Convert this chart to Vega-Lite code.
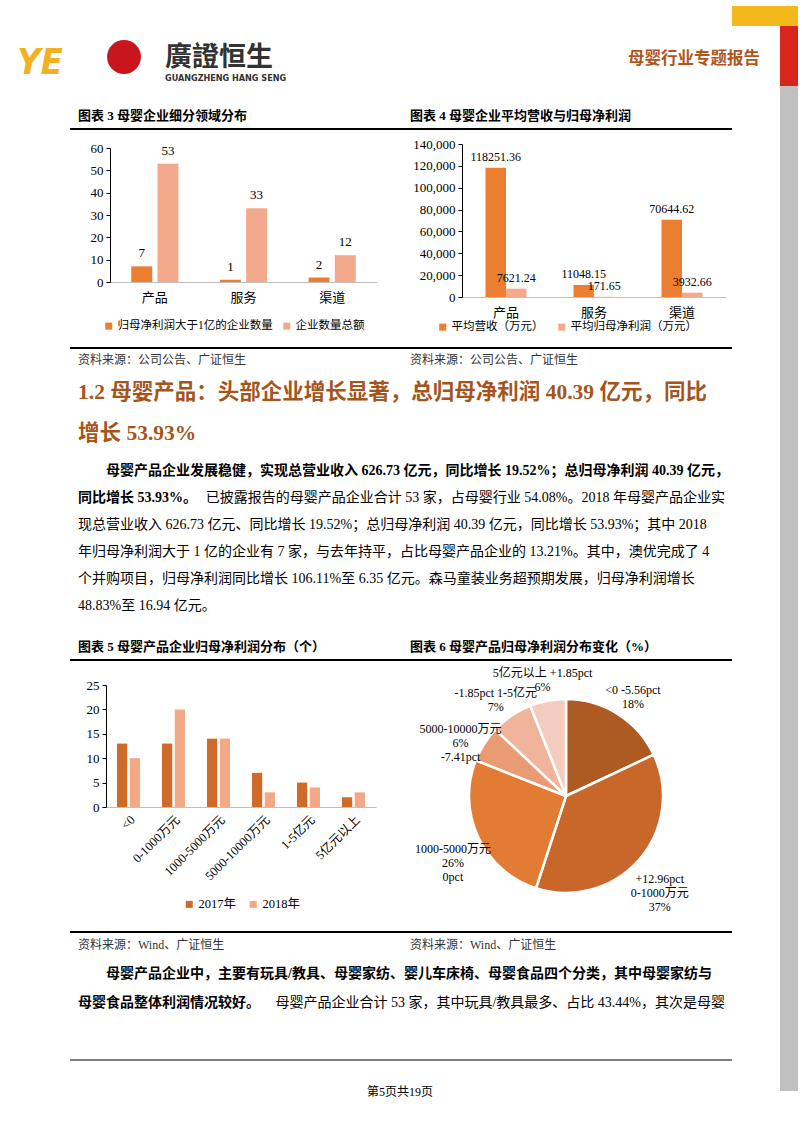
{
"$schema": "https://vega.github.io/schema/vega-lite/v6.json",
"background": "white",
"padding": 0,
"data": {"values": [{}]},
"columns": 5,
"spacing": 0,
"bounds": "flush",
"align": "each",
"resolve": {
  "scale": {"color": "independent", "fill": "independent", "xOffset": "independent", "theta": "independent"},
  "legend": {"color": "independent", "fill": "independent"}
},
"config": {
  "view": {"stroke": null},
  "font": "Liberation Serif, Noto Sans CJK SC",
  "axis": {"labelFont": "Liberation Serif, Noto Sans CJK SC", "titleFont": "Liberation Serif, Noto Sans CJK SC"},
  "legend": {"labelFont": "Liberation Serif, Noto Sans CJK SC"},
  "title": {"font": "Liberation Serif, Noto Sans CJK SC"},
  "text": {"font": "Liberation Serif, Noto Sans CJK SC"}
},
"concat": [
  {"width": 70, "height": 5, "mark": {"type": "point", "opacity": 0}},
  {"width": 330, "height": 5, "mark": {"type": "point", "opacity": 0}},
  {"width": 332, "height": 5, "mark": {"type": "point", "opacity": 0}},
  {"width": 48, "height": 5, "mark": {"type": "point", "opacity": 0}},
  {"width": 18, "height": 5, "mark": {"type": "point", "opacity": 0}},

  {"width": 70, "height": 20, "mark": {"type": "point", "opacity": 0}},
  {"width": 330, "height": 20, "mark": {"type": "point", "opacity": 0}},
  {"width": 332, "height": 20, "mark": {"type": "point", "opacity": 0}},
  {"width": 48, "height": 20, "view": {"fill": "#F3B81A"}, "mark": {"type": "point", "opacity": 0}},
  {"width": 18, "height": 20, "view": {"fill": "#F3B81A"}, "mark": {"type": "point", "opacity": 0}},

  {"width": 70, "height": 60, "mark": {"type": "point", "opacity": 0}},
  {"width": 330, "height": 60,
   "data": {"values": [{"org": "廣證恒生"}]},
   "mark": {"type": "point", "opacity": 0, "filled": true},
   "encoding": {
     "fill": {"field": "org", "type": "nominal", "scale": {"range": ["#C9161D"]},
       "legend": {"orient": "none", "legendX": 37, "legendY": 14, "title": null, "symbolType": "circle", "symbolSize": 1150, "symbolOpacity": 1, "symbolStrokeWidth": 0, "labelExpr": "''"}}
   }},
  {"width": 332, "height": 60, "mark": {"type": "point", "opacity": 0}},
  {"width": 48, "height": 60, "mark": {"type": "point", "opacity": 0}},
  {"width": 18, "height": 60, "view": {"fill": "#D9261C"}, "mark": {"type": "point", "opacity": 0}},

  {"width": 70, "height": 42, "mark": {"type": "point", "opacity": 0},
   "title": {"text": "YE", "anchor": "middle", "frame": "group", "dx": 5, "offset": 4, "fontSize": 36, "fontStyle": "italic", "fontWeight": "bold", "color": "#F2B120", "font": "DejaVu Sans Condensed, DejaVu Sans"}},
  {"width": 330, "height": 42, "mark": {"type": "point", "opacity": 0},
   "title": {"text": "廣證恒生", "subtitle": "GUANGZHENG HANG SENG", "anchor": "start", "frame": "group", "dx": 95, "offset": 2, "fontSize": 27, "fontWeight": "bold", "color": "#333333", "font": "Noto Sans CJK TC", "subtitleFontSize": 9, "subtitleFont": "DejaVu Sans Condensed, DejaVu Sans", "subtitleFontWeight": "bold", "subtitleColor": "#333333", "subtitlePadding": 2}},
  {"width": 332, "height": 42, "mark": {"type": "point", "opacity": 0},
   "title": {"text": "母婴行业专题报告", "anchor": "end", "frame": "group", "dx": 28, "offset": 19, "fontSize": 16.5, "fontWeight": "bold", "color": "#B0561C", "font": "Noto Sans CJK SC"}},
  {"width": 48, "height": 42, "mark": {"type": "point", "opacity": 0}},
  {"width": 18, "height": 42, "view": {"fill": "#C0C0C0"}, "mark": {"type": "point", "opacity": 0}},

  {"width": 70, "height": 2, "mark": {"type": "point", "opacity": 0}},
  {"width": 330, "height": 2, "view": {"fill": "#000000"}, "mark": {"type": "point", "opacity": 0},
   "title": {"text": "图表 3 母婴企业细分领域分布", "anchor": "start", "frame": "group", "dx": 8, "offset": 3, "fontSize": 13, "fontWeight": "bold", "color": "#000000"}},
  {"width": 332, "height": 2, "view": {"fill": "#000000"}, "mark": {"type": "point", "opacity": 0},
   "title": {"text": "图表 4 母婴企业平均营收与归母净利润", "anchor": "start", "frame": "group", "dx": 10, "offset": 3, "fontSize": 13, "fontWeight": "bold", "color": "#000000"}},
  {"width": 48, "height": 2, "mark": {"type": "point", "opacity": 0}},
  {"width": 18, "height": 2, "view": {"fill": "#C0C0C0"}, "mark": {"type": "point", "opacity": 0}},

  {"width": 70, "height": 217, "mark": {"type": "point", "opacity": 0}},
  {"width": 330, "height": 217,
   "data": {"values": [
     {"cat": "产品", "series": "归母净利润大于1亿的企业数量", "value": 7},
     {"cat": "产品", "series": "企业数量总额", "value": 53},
     {"cat": "服务", "series": "归母净利润大于1亿的企业数量", "value": 1},
     {"cat": "服务", "series": "企业数量总额", "value": 33},
     {"cat": "渠道", "series": "归母净利润大于1亿的企业数量", "value": 2},
     {"cat": "渠道", "series": "企业数量总额", "value": 12}
   ]},
   "encoding": {
     "x": {"field": "cat", "type": "nominal", "sort": ["产品", "服务", "渠道"], "scale": {"range": [40, 307], "paddingInner": 0.438, "paddingOuter": 0.2245},
       "axis": {"orient": "bottom", "offset": -65, "title": null, "labelAngle": 0, "ticks": false, "domainColor": "#BFBFBF", "labelPadding": 9, "labelFontSize": 13, "labelColor": "#000000"}},
     "xOffset": {"field": "series", "type": "nominal", "sort": ["归母净利润大于1亿的企业数量", "企业数量总额"], "scale": {"paddingInner": 0.2, "paddingOuter": 0.05}},
     "y": {"field": "value", "type": "quantitative", "scale": {"domain": [0, 60], "range": [152, 18], "nice": false},
       "axis": {"offset": -40, "values": [0, 10, 20, 30, 40, 50, 60], "title": null, "grid": false, "domainColor": "#000000", "tickColor": "#000000", "tickSize": 4, "labelPadding": 3, "labelFontSize": 13, "labelColor": "#000000"}}
   },
   "layer": [
     {"mark": {"type": "bar"},
      "encoding": {"color": {"field": "series", "type": "nominal", "sort": ["归母净利润大于1亿的企业数量", "企业数量总额"], "scale": {"domain": ["归母净利润大于1亿的企业数量", "企业数量总额"], "range": ["#ED7D31", "#F3AA8C"]},
        "legend": {"orient": "none", "legendX": 33, "legendY": 190, "direction": "horizontal", "title": null, "symbolType": "square", "symbolSize": 49, "symbolStrokeWidth": 0, "labelFontSize": 11.5, "labelLimit": 300, "columnPadding": 8, "labelOffset": 3, "labelColor": "#000000"}}}},
     {"mark": {"type": "text", "dy": -13, "fontSize": 13, "color": "#000000"},
      "encoding": {"text": {"field": "value", "type": "quantitative"}}}
   ]},
  {"width": 332, "height": 217,
   "data": {"values": [
     {"cat": "产品", "series": "平均营收（万元）", "value": 118251.36},
     {"cat": "产品", "series": "平均归母净利润（万元）", "value": 7621.24},
     {"cat": "服务", "series": "平均营收（万元）", "value": 11048.15},
     {"cat": "服务", "series": "平均归母净利润（万元）", "value": 171.65},
     {"cat": "渠道", "series": "平均营收（万元）", "value": 70644.62},
     {"cat": "渠道", "series": "平均归母净利润（万元）", "value": 3932.66}
   ]},
   "encoding": {
     "x": {"field": "cat", "type": "nominal", "sort": ["产品", "服务", "渠道"], "scale": {"range": [62, 326], "paddingInner": 0.534, "paddingOuter": 0.267},
       "axis": {"orient": "bottom", "offset": -50, "title": null, "labelAngle": 0, "ticks": false, "domainColor": "#BFBFBF", "labelPadding": 9, "labelFontSize": 13, "labelColor": "#000000"}},
     "xOffset": {"field": "series", "type": "nominal", "sort": ["平均营收（万元）", "平均归母净利润（万元）"], "scale": {"paddingInner": 0, "paddingOuter": 0}},
     "y": {"field": "value", "type": "quantitative", "scale": {"domain": [0, 140000], "range": [167, 14], "nice": false},
       "axis": {"offset": -62, "values": [0, 20000, 40000, 60000, 80000, 100000, 120000, 140000], "labelExpr": "format(datum.value, ',')", "title": null, "grid": false, "domainColor": "#000000", "tickColor": "#000000", "tickSize": 4, "labelPadding": 3, "labelFontSize": 13, "labelColor": "#000000"}}
   },
   "layer": [
     {"mark": {"type": "bar"},
      "encoding": {"color": {"field": "series", "type": "nominal", "sort": ["平均营收（万元）", "平均归母净利润（万元）"], "scale": {"domain": ["平均营收（万元）", "平均归母净利润（万元）"], "range": ["#ED7D31", "#F3AA8C"]},
        "legend": {"orient": "none", "legendX": 37, "legendY": 191, "direction": "horizontal", "title": null, "symbolType": "square", "symbolSize": 49, "symbolStrokeWidth": 0, "labelFontSize": 11.5, "labelLimit": 300, "columnPadding": 12, "labelOffset": 3, "labelColor": "#000000"}}}},
     {"mark": {"type": "text", "dy": -11, "fontSize": 12, "color": "#000000"},
      "encoding": {"text": {"field": "value", "type": "quantitative", "format": ".2f"}}}
   ]},
  {"width": 48, "height": 217, "mark": {"type": "point", "opacity": 0}},
  {"width": 18, "height": 217, "view": {"fill": "#C0C0C0"}, "mark": {"type": "point", "opacity": 0}},

  {"width": 70, "height": 2, "mark": {"type": "point", "opacity": 0}},
  {"width": 330, "height": 2, "view": {"fill": "#000000"}, "mark": {"type": "point", "opacity": 0},
   "title": {"text": "资料来源：公司公告、广证恒生", "orient": "bottom", "anchor": "start", "frame": "group", "dx": 8, "offset": 4, "fontSize": 12, "fontWeight": "normal", "color": "#333333"}},
  {"width": 332, "height": 2, "view": {"fill": "#000000"}, "mark": {"type": "point", "opacity": 0},
   "title": {"text": "资料来源：公司公告、广证恒生", "orient": "bottom", "anchor": "start", "frame": "group", "dx": 10, "offset": 4, "fontSize": 12, "fontWeight": "normal", "color": "#333333"}},
  {"width": 48, "height": 2, "mark": {"type": "point", "opacity": 0}},
  {"width": 18, "height": 2, "view": {"fill": "#C0C0C0"}, "mark": {"type": "point", "opacity": 0}},

  {"width": 70, "height": 104, "mark": {"type": "point", "opacity": 0}},
  {"width": 330, "height": 104,
   "data": {"values": [
     {"ln": 1, "seg": "start", "txt": "1.2 母婴产品：头部企业增长显著，总归母净利润 40.39 亿元，同比"},
     {"ln": 2, "seg": "start", "txt": "增长 53.93%"}
   ]},
   "mark": {"type": "text", "align": "left", "fontSize": 21.5, "fontWeight": "bold", "color": "#A5541B"},
   "encoding": {
     "x": {"field": "seg", "type": "nominal", "scale": {"type": "point", "domain": ["start", "end"], "range": [8, 655], "padding": 0}, "axis": null},
     "y": {"field": "ln", "type": "ordinal", "scale": {"type": "point", "range": [44, 85], "padding": 0}, "axis": null},
     "text": {"field": "txt"}
   }},
  {"width": 332, "height": 104, "mark": {"type": "point", "opacity": 0}},
  {"width": 48, "height": 104, "mark": {"type": "point", "opacity": 0}},
  {"width": 18, "height": 104, "view": {"fill": "#C0C0C0"}, "mark": {"type": "point", "opacity": 0}},

  {"width": 70, "height": 206, "mark": {"type": "point", "opacity": 0}},
  {"width": 330, "height": 206,
   "data": {"values": [
     {"ln": 1, "seg": "start", "wt": "b", "txt": "母婴产品企业发展稳健，实现总营业收入 626.73 亿元，同比增长 19.52%；总归母净利润 40.39 亿元，"},
     {"ln": 2, "seg": "start", "wt": "b", "txt": "同比增长 53.93%。"},
     {"ln": 2, "seg": "end", "wt": "n", "txt": "已披露报告的母婴产品企业合计 53 家，占母婴行业 54.08%。2018 年母婴产品企业实"},
     {"ln": 3, "seg": "start", "wt": "n", "txt": "现总营业收入 626.73 亿元、同比增长 19.52%；总归母净利润 40.39 亿元，同比增长 53.93%；其中 2018"},
     {"ln": 4, "seg": "start", "wt": "n", "txt": "年归母净利润大于 1 亿的企业有 7 家，与去年持平，占比母婴产品企业的 13.21%。其中，澳优完成了 4"},
     {"ln": 5, "seg": "start", "wt": "n", "txt": "个并购项目，归母净利润同比增长 106.11%至 6.35 亿元。森马童装业务超预期发展，归母净利润增长"},
     {"ln": 6, "seg": "start", "wt": "n", "txt": "48.83%至 16.94 亿元。"}
   ]},
   "encoding": {
     "x": {"field": "seg", "type": "nominal", "scale": {"type": "point", "domain": ["start", "end"], "range": [8, 655], "padding": 0}, "axis": null},
     "y": {"field": "ln", "type": "ordinal", "scale": {"type": "point", "range": [18, 153], "padding": 0}, "axis": null},
     "text": {"field": "txt"}
   },
   "layer": [
     {"transform": [{"filter": "datum.ln == 1"}], "mark": {"type": "text", "align": "left", "dx": 28, "fontSize": 14, "fontWeight": "bold", "color": "#000000"}},
     {"transform": [{"filter": "datum.ln > 1 && datum.wt == 'b'"}], "mark": {"type": "text", "align": "left", "fontSize": 14, "fontWeight": "bold", "color": "#000000"}},
     {"transform": [{"filter": "datum.wt == 'n' && datum.seg == 'start'"}], "mark": {"type": "text", "align": "left", "fontSize": 14, "color": "#000000"}},
     {"transform": [{"filter": "datum.seg == 'end'"}], "mark": {"type": "text", "align": "right", "fontSize": 14, "color": "#000000"}}
   ]
  },
  {"width": 332, "height": 206, "mark": {"type": "point", "opacity": 0}},
  {"width": 48, "height": 206, "mark": {"type": "point", "opacity": 0}},
  {"width": 18, "height": 206, "view": {"fill": "#C0C0C0"}, "mark": {"type": "point", "opacity": 0}},

  {"width": 70, "height": 2, "mark": {"type": "point", "opacity": 0}},
  {"width": 330, "height": 2, "view": {"fill": "#000000"}, "mark": {"type": "point", "opacity": 0},
   "title": {"text": "图表 5 母婴产品企业归母净利润分布（个）", "anchor": "start", "frame": "group", "dx": 8, "offset": 3, "fontSize": 13, "fontWeight": "bold", "color": "#000000"}},
  {"width": 332, "height": 2, "view": {"fill": "#000000"}, "mark": {"type": "point", "opacity": 0},
   "title": {"text": "图表 6 母婴产品归母净利润分布变化（%）", "anchor": "start", "frame": "group", "dx": 10, "offset": 3, "fontSize": 13, "fontWeight": "bold", "color": "#000000"}},
  {"width": 48, "height": 2, "mark": {"type": "point", "opacity": 0}},
  {"width": 18, "height": 2, "view": {"fill": "#C0C0C0"}, "mark": {"type": "point", "opacity": 0}},

  {"width": 70, "height": 270, "mark": {"type": "point", "opacity": 0}},
  {"width": 330, "height": 270,
   "data": {"values": [
     {"cat": "<0", "year": "2017年", "value": 13},
     {"cat": "<0", "year": "2018年", "value": 10},
     {"cat": "0-1000万元", "year": "2017年", "value": 13},
     {"cat": "0-1000万元", "year": "2018年", "value": 20},
     {"cat": "1000-5000万元", "year": "2017年", "value": 14},
     {"cat": "1000-5000万元", "year": "2018年", "value": 14},
     {"cat": "5000-10000万元", "year": "2017年", "value": 7},
     {"cat": "5000-10000万元", "year": "2018年", "value": 3},
     {"cat": "1-5亿元", "year": "2017年", "value": 5},
     {"cat": "1-5亿元", "year": "2018年", "value": 4},
     {"cat": "5亿元以上", "year": "2017年", "value": 2},
     {"cat": "5亿元以上", "year": "2018年", "value": 3}
   ]},
   "mark": {"type": "bar"},
   "encoding": {
     "x": {"field": "cat", "type": "nominal", "sort": ["<0", "0-1000万元", "1000-5000万元", "5000-10000万元", "1-5亿元", "5亿元以上"], "scale": {"range": [36, 306], "paddingInner": 0.49, "paddingOuter": 0.245},
       "axis": {"orient": "bottom", "offset": -124, "title": null, "labelAngle": -45, "ticks": false, "domainColor": "#BFBFBF", "labelPadding": 6, "labelFontSize": 12.5, "labelColor": "#000000"}},
     "xOffset": {"field": "year", "type": "nominal", "sort": ["2017年", "2018年"], "scale": {"paddingInner": 0.2, "paddingOuter": 0}},
     "y": {"field": "value", "type": "quantitative", "scale": {"domain": [0, 25], "range": [146, 24], "nice": false},
       "axis": {"offset": -36, "values": [0, 5, 10, 15, 20, 25], "title": null, "grid": false, "domainColor": "#000000", "tickColor": "#000000", "tickSize": 4, "labelPadding": 3, "labelFontSize": 13, "labelColor": "#000000"}},
     "color": {"field": "year", "type": "nominal", "sort": ["2017年", "2018年"], "scale": {"domain": ["2017年", "2018年"], "range": ["#D06A28", "#F3A886"]},
       "legend": {"orient": "none", "legendX": 113, "legendY": 237, "direction": "horizontal", "title": null, "symbolType": "square", "symbolSize": 49, "symbolStrokeWidth": 0, "labelFontSize": 12.5, "columnPadding": 10, "labelOffset": 3, "labelColor": "#000000"}}
   }},
  {"width": 332, "height": 270,
   "data": {"values": [
     {"seg": "<0", "share": 18, "label": "<0  -5.56pct\n18%", "rank": 1},
     {"seg": "0-1000万元", "share": 37, "label": "+12.96pct\n0-1000万元\n37%", "rank": 2},
     {"seg": "1000-5000万元", "share": 26, "label": "1000-5000万元\n26%\n0pct", "rank": 3},
     {"seg": "5000-10000万元", "share": 6, "label": "5000-10000万元\n6%\n-7.41pct", "rank": 4},
     {"seg": "1-5亿元", "share": 7, "label": "-1.85pct  1-5亿元\n7%", "rank": 5},
     {"seg": "5亿元以上", "share": 6, "label": "5亿元以上  +1.85pct\n6%", "rank": 6}
   ]},
   "encoding": {
     "theta": {"field": "share", "type": "quantitative", "stack": true},
     "order": {"field": "rank", "type": "quantitative"},
     "detail": {"field": "seg", "type": "nominal"}
   },
   "layer": [
     {"mark": {"type": "arc", "outerRadius": 97, "stroke": "#ffffff", "strokeWidth": 2.5},
      "encoding": {"color": {"field": "seg", "type": "nominal", "scale": {"domain": ["<0", "0-1000万元", "1000-5000万元", "5000-10000万元", "1-5亿元", "5亿元以上"], "range": ["#AE5A23", "#C9672A", "#E27B33", "#E99C74", "#EFB49B", "#F4CDBF"]}, "legend": null}}},
     {"mark": {"type": "text", "radius": 125, "lineBreak": "\n", "fontSize": 12, "color": "#000000", "lineHeight": 14},
      "encoding": {"text": {"field": "label"}}}
   ]},
  {"width": 48, "height": 270, "mark": {"type": "point", "opacity": 0}},
  {"width": 18, "height": 270, "view": {"fill": "#C0C0C0"}, "mark": {"type": "point", "opacity": 0}},

  {"width": 70, "height": 2, "mark": {"type": "point", "opacity": 0}},
  {"width": 330, "height": 2, "view": {"fill": "#000000"}, "mark": {"type": "point", "opacity": 0},
   "title": {"text": "资料来源：Wind、广证恒生", "orient": "bottom", "anchor": "start", "frame": "group", "dx": 8, "offset": 5, "fontSize": 12, "fontWeight": "normal", "color": "#333333"}},
  {"width": 332, "height": 2, "view": {"fill": "#000000"}, "mark": {"type": "point", "opacity": 0},
   "title": {"text": "资料来源：Wind、广证恒生", "orient": "bottom", "anchor": "start", "frame": "group", "dx": 10, "offset": 5, "fontSize": 12, "fontWeight": "normal", "color": "#333333"}},
  {"width": 48, "height": 2, "mark": {"type": "point", "opacity": 0}},
  {"width": 18, "height": 2, "view": {"fill": "#C0C0C0"}, "mark": {"type": "point", "opacity": 0}},

  {"width": 70, "height": 126, "mark": {"type": "point", "opacity": 0}},
  {"width": 330, "height": 126,
   "data": {"values": [
     {"ln": 1, "seg": "start", "wt": "b", "txt": "母婴产品企业中，主要有玩具/教具、母婴家纺、婴儿车床椅、母婴食品四个分类，其中母婴家纺与"},
     {"ln": 2, "seg": "start", "wt": "b", "txt": "母婴食品整体利润情况较好。"},
     {"ln": 2, "seg": "end", "wt": "n", "txt": "母婴产品企业合计 53 家，其中玩具/教具最多、占比 43.44%，其次是母婴"}
   ]},
   "encoding": {
     "x": {"field": "seg", "type": "nominal", "scale": {"type": "point", "domain": ["start", "end"], "range": [8, 655], "padding": 0}, "axis": null},
     "y": {"field": "ln", "type": "ordinal", "scale": {"type": "point", "range": [41, 70], "padding": 0}, "axis": null},
     "text": {"field": "txt"}
   },
   "layer": [
     {"transform": [{"filter": "datum.ln == 1"}], "mark": {"type": "text", "align": "left", "dx": 28, "fontSize": 14, "fontWeight": "bold", "color": "#000000"}},
     {"transform": [{"filter": "datum.ln == 2 && datum.wt == 'b'"}], "mark": {"type": "text", "align": "left", "fontSize": 14, "fontWeight": "bold", "color": "#000000"}},
     {"transform": [{"filter": "datum.wt == 'n'"}], "mark": {"type": "text", "align": "right", "fontSize": 14, "color": "#000000"}}
   ]
  },
  {"width": 332, "height": 126, "mark": {"type": "point", "opacity": 0}},
  {"width": 48, "height": 126, "mark": {"type": "point", "opacity": 0}},
  {"width": 18, "height": 126, "view": {"fill": "#C0C0C0"}, "mark": {"type": "point", "opacity": 0}},

  {"width": 70, "height": 2, "mark": {"type": "point", "opacity": 0}},
  {"width": 330, "height": 2, "view": {"fill": "#7F7F7F"}, "mark": {"type": "point", "opacity": 0},
   "title": {"text": "第5页共19页", "orient": "bottom", "anchor": "end", "frame": "group", "dx": 33, "offset": 24, "fontSize": 12, "fontWeight": "normal", "color": "#000000"}},
  {"width": 332, "height": 2, "view": {"fill": "#7F7F7F"}, "mark": {"type": "point", "opacity": 0}},
  {"width": 48, "height": 2, "mark": {"type": "point", "opacity": 0}},
  {"width": 18, "height": 2, "view": {"fill": "#C0C0C0"}, "mark": {"type": "point", "opacity": 0}},

  {"width": 70, "height": 30, "mark": {"type": "point", "opacity": 0}},
  {"width": 330, "height": 30, "mark": {"type": "point", "opacity": 0}},
  {"width": 332, "height": 30, "mark": {"type": "point", "opacity": 0}},
  {"width": 48, "height": 30, "mark": {"type": "point", "opacity": 0}},
  {"width": 18, "height": 30, "view": {"fill": "#C0C0C0"}, "mark": {"type": "point", "opacity": 0}}
]
}
